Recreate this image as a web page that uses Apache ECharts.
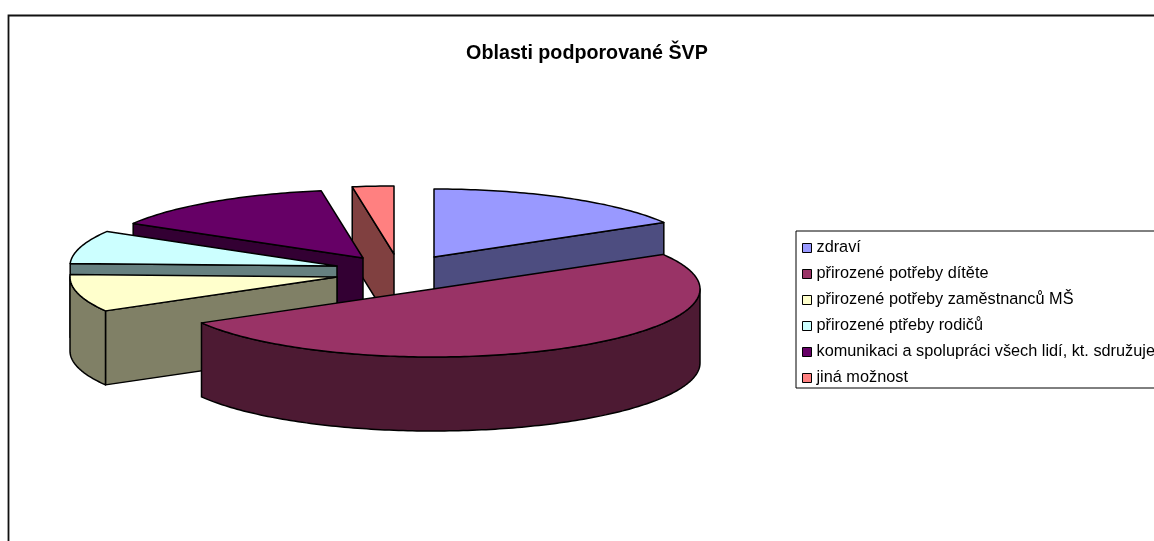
<!DOCTYPE html>
<html>
<head>
<meta charset="utf-8">
<style>html,body{margin:0;padding:0;background:#fff;overflow:hidden}#c{width:1154px;height:541px}</style>
<script src="https://cdn.jsdelivr.net/npm/echarts@6/dist/echarts.min.js"></script>
</head>
<body>
<div id="c"></div>
<script>
const titleText = 'Oblasti podporované ŠVP';
const categories = ['zdraví', 'přirozené potřeby dítěte', 'přirozené potřeby zaměstnanců MŠ', 'přirozené ptřeby rodičů', 'komunikaci a spolupráci všech lidí, kt. sdružuje', 'jiná možnost'];
const values = [16.5, 50.2, 8.9, 7.9, 14, 2.5];
const topColors = ['#9999FF', '#993366', '#FFFFCC', '#CCFFFF', '#660066', '#FF8080'];
const sideColors = ['#4D4D80', '#4D1A33', '#808066', '#668080', '#330033', '#804040'];
const explodeShift = [[1, -32], [0, 0], [-96, -12], [-96, -23], [-70, -31], [-39, -35]];
const paintOrder = [5, 6, 4, 3, 2, 1];

const PIE = { cx: 433, cy: 289, rx: 267, ry: 68, depth: 74 };
const total = values.reduce((s, v) => s + v, 0);
const rad = d => d * Math.PI / 180;

function ringPoint(c, deg, drop) {
  return [c[0] + PIE.rx * Math.sin(rad(deg)), c[1] - PIE.ry * Math.cos(rad(deg)) + (drop || 0)];
}
function arcPoints(c, from, to, drop) {
  const pts = [];
  const n = Math.max(2, Math.ceil(Math.abs(to - from)));
  for (let i = 0; i <= n; i++) pts.push(ringPoint(c, from + (to - from) * i / n, drop));
  return pts;
}
const outline = { stroke: '#000', lineWidth: 1.5, lineJoin: 'round' };
function face(points, fill) {
  return { type: 'polygon', shape: { points }, style: Object.assign({ fill }, outline) };
}
function wall(c, apex, deg, fill) {
  const p = ringPoint(c, deg);
  return face([apex, p, [p[0], p[1] + PIE.depth], [apex[0], apex[1] + PIE.depth]], fill);
}

function makeRender(idx) {
  return function (params, api) {
    const v = api.value(0);
    let before = 0;
    for (let i = 0; i < idx; i++) before += values[i];
    const start = before / total * 360;
    const end = start + v / total * 360;
    const c = [PIE.cx + explodeShift[idx][0], PIE.cy + explodeShift[idx][1]];
    const kids = [];
    if (Math.sin(rad(start)) < -1e-6) kids.push(wall(c, c, start, sideColors[idx]));
    if (Math.sin(rad(end)) > 1e-6) kids.push(wall(c, c, end, sideColors[idx]));
    const a0 = Math.max(start, 90), a1 = Math.min(end, 270);
    if (a1 > a0) {
      const upper = arcPoints(c, a0, a1, 0);
      const lower = arcPoints(c, a1, a0, PIE.depth);
      kids.push(face(upper.concat(lower), sideColors[idx]));
    }
    kids.push(face([c].concat(arcPoints(c, start, end, 0)), topColors[idx]));
    return { type: 'group', children: kids };
  };
}

const chart = echarts.init(document.getElementById('c'), null, { renderer: 'canvas' });
chart.setOption({
  animation: false,
  backgroundColor: '#fff',
  graphic: [{
    type: 'rect', silent: true, z: 0,
    shape: { x: 8.5, y: 15.5, width: 1400, height: 800 },
    style: { fill: 'none', stroke: '#111', lineWidth: 1.8 }
  }, {
    type: 'text', silent: true, z: 10, x: 587, y: 53.5,
    style: {
      text: titleText, align: 'center', verticalAlign: 'middle',
      fontFamily: 'Liberation Sans', fontSize: 19.7, fontWeight: 'bold', fill: '#000'
    }
  }],
  legend: {
    orient: 'vertical', left: 796, top: 231,
    padding: [9, 30, 2, 6],
    itemWidth: 9, itemHeight: 9, itemGap: 10, icon: 'rect',
    borderColor: '#000', borderWidth: 1, backgroundColor: '#fff',
    selectedMode: false,
    itemStyle: { borderColor: '#000', borderWidth: 1 },
    textStyle: { fontFamily: 'Liberation Sans', fontSize: 16.3, color: '#000', padding: [0, 0, 0, 0], height: 16, lineHeight: 16 },
    data: categories
  },
  series: categories.map((name, i) => ({
    type: 'custom', name, coordinateSystem: 'none', z: paintOrder[i] + 1,
    itemStyle: { color: topColors[i] },
    renderItem: makeRender(i),
    silent: true,
    data: [[values[i]]]
  }))
});
</script>
</body>
</html>
